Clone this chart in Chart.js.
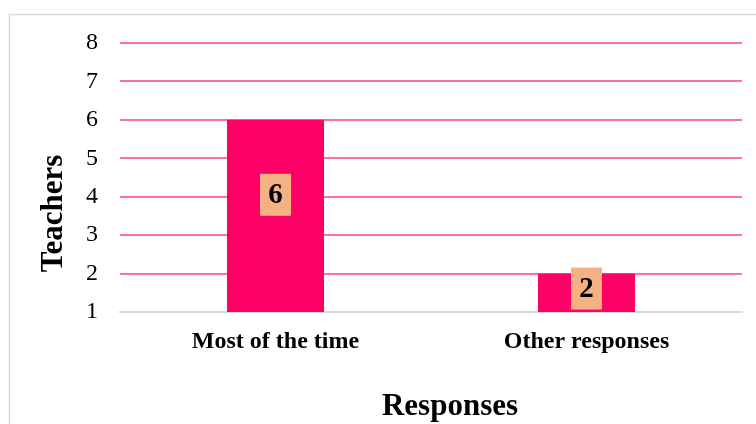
<!DOCTYPE html>
<html>
<head>
<meta charset="utf-8">
<script src="https://cdn.jsdelivr.net/npm/chart.js@4.4.1/dist/chart.umd.min.js"></script>
<style>
  html, body { margin: 0; padding: 0; background: #ffffff; }
  #wrap { width: 756px; height: 424px; position: relative; }
</style>
</head>
<body>
<div id="wrap"><canvas id="c" width="756" height="424"></canvas></div>
<script>
const categories = ["Most of the time", "Other responses"];
const teachers = [6, 2];
const yTitle = "Teachers";
const xTitle = "Responses";

const SERIF = "'Liberation Serif', 'Times New Roman', serif";

const frame = {
  id: 'frame',
  beforeDraw(chart) {
    const ctx = chart.ctx;
    ctx.save();
    ctx.fillStyle = '#ffffff';
    ctx.fillRect(0, 0, chart.width, chart.height);
    ctx.strokeStyle = '#d9d9d9';
    ctx.lineWidth = 1.5;
    ctx.strokeRect(9.5, 14.5, 900, 600);
    ctx.restore();
  }
};

const valueBoxes = {
  id: 'valueBoxes',
  afterDatasetsDraw(chart) {
    const ctx = chart.ctx;
    const meta = chart.getDatasetMeta(0);
    const yScale = chart.scales.y;
    const basePx = yScale.getPixelForValue(yScale.min);
    ctx.save();
    meta.data.forEach((bar, i) => {
      const cy = bar.y + 0.39 * (basePx - bar.y);
      const w = 31, h = 42;
      ctx.fillStyle = '#f4b183';
      ctx.fillRect(bar.x - w / 2, cy - h / 2, w, h);
      ctx.fillStyle = '#000000';
      ctx.font = "bold 29px " + SERIF;
      ctx.textAlign = 'center';
      ctx.textBaseline = 'middle';
      ctx.fillText(String(chart.data.datasets[0].data[i]), bar.x, cy + 1);
    });
    ctx.restore();
  }
};

const axisTitles = {
  id: 'axisTitles',
  afterDraw(chart) {
    const ctx = chart.ctx;
    const ca = chart.chartArea;
    ctx.save();
    ctx.fillStyle = '#000000';
    ctx.font = "bold 31px " + SERIF;
    ctx.textAlign = 'center';
    ctx.textBaseline = 'middle';
    ctx.fillText(xTitle, (ca.left + ca.right) / 2 + 19, 407);
    ctx.translate(54, (ca.top + ca.bottom) / 2 + 36);
    ctx.rotate(-Math.PI / 2);
    ctx.fillText(yTitle, 0, 0);
    ctx.restore();
  }
};

new Chart(document.getElementById('c'), {
  type: 'bar',
  data: {
    labels: categories,
    datasets: [{
      label: yTitle,
      data: teachers,
      backgroundColor: '#ff0066',
      borderWidth: 0,
      barPercentage: 0.312,
      categoryPercentage: 1.0
    }]
  },
  options: {
    responsive: false,
    animation: false,
    devicePixelRatio: 1,
    layout: { padding: { top: 43, right: 14, left: 0, bottom: 0 } },
    plugins: {
      legend: { display: false },
      tooltip: { enabled: false },
      title: { display: false }
    },
    scales: {
      x: {
        afterFit(scale) { scale.height = 112; },
        grid: { display: false, drawTicks: false },
        border: { display: true, color: '#d9d9d9', width: 2 },
        ticks: {
          color: '#000000',
          padding: 15,
          font: { family: SERIF, size: 24, weight: 'bold' }
        }
      },
      y: {
        min: 1,
        max: 8,
        beginAtZero: false,
        afterFit(scale) { scale.width = 120; },
        grid: {
          drawTicks: false,
          color: (c) => (c.tick && c.tick.value === 1) ? '#d9d9d9' : '#ff6f9f',
          lineWidth: 2
        },
        border: { display: false },
        ticks: {
          stepSize: 1,
          color: '#000000',
          padding: 22,
          font: { family: SERIF, size: 24 }
        }
      }
    }
  },
  plugins: [frame, valueBoxes, axisTitles]
});
</script>
</body>
</html>
